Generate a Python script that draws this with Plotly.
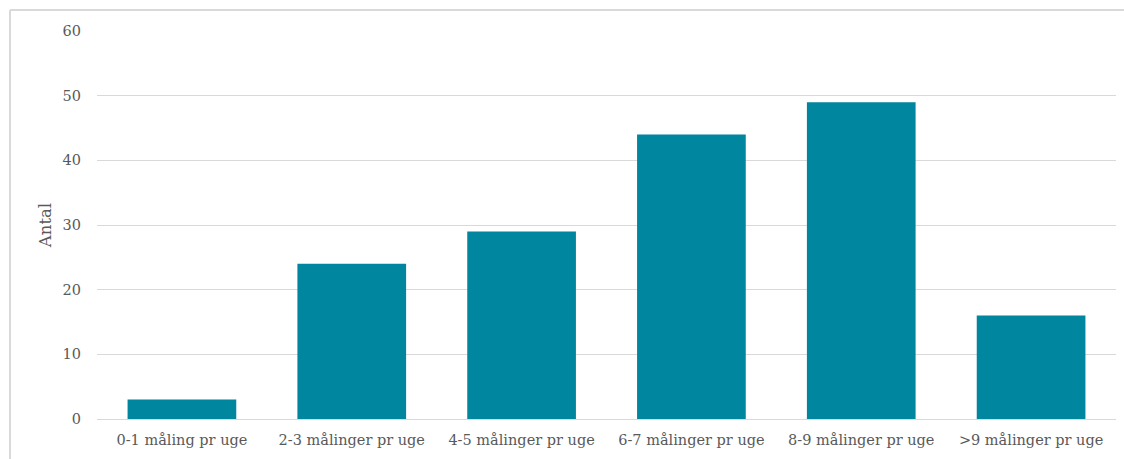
import plotly.graph_objects as go

categories = ["0-1 måling pr uge", "2-3 målinger pr uge", "4-5 målinger pr uge",
              "6-7 målinger pr uge", "8-9 målinger pr uge", ">9 målinger pr uge"]
antal = [3, 24, 29, 44, 49, 16]
y_ticks = [0, 10, 20, 30, 40, 50, 60]

W, H = 1124, 459
L, R, T, B = 97, 8, 31, 40
PW, PH = W - L - R, H - T - B


def px_x(px):
    return (px - L) / PW


def px_y(py):
    return (H - B - py) / PH


fig = go.Figure(go.Bar(
    x=categories, y=antal,
    marker=dict(color="#00869F", line=dict(width=0)),
    width=0.64,
))

font_family = "DejaVu Serif"
grey = "#595959"

fig.update_layout(
    width=W, height=H,
    margin=dict(l=L, r=R, t=T, b=B),
    plot_bgcolor="white", paper_bgcolor="white",
    showlegend=False,
    font=dict(family=font_family, color=grey, size=14.5),
    xaxis=dict(showgrid=False, showline=True, linecolor="#d9d9d9", linewidth=1,
               ticks="", ticklabelstandoff=8, tickfont=dict(size=14.5, color=grey)),
    yaxis=dict(range=[0, 60], tickvals=y_ticks, showgrid=True, gridcolor="#d9d9d9",
               gridwidth=1, zeroline=False, showline=False, ticks="",
               ticklabelstandoff=15,
               tickfont=dict(size=14.5, color=grey),
               title=dict(text="Antal", font=dict(size=16.5, color=grey), standoff=6)),
    shapes=[
        # chart frame: top and left edges
        dict(type="line", xref="paper", yref="paper",
             x0=px_x(10), x1=px_x(W + 5), y0=px_y(10), y1=px_y(10),
             line=dict(color="#d9d9d9", width=2)),
        dict(type="line", xref="paper", yref="paper",
             x0=px_x(10), x1=px_x(10), y0=px_y(H + 5), y1=px_y(10),
             line=dict(color="#d9d9d9", width=2)),
    ],
)

fig.write_html("out.html")
